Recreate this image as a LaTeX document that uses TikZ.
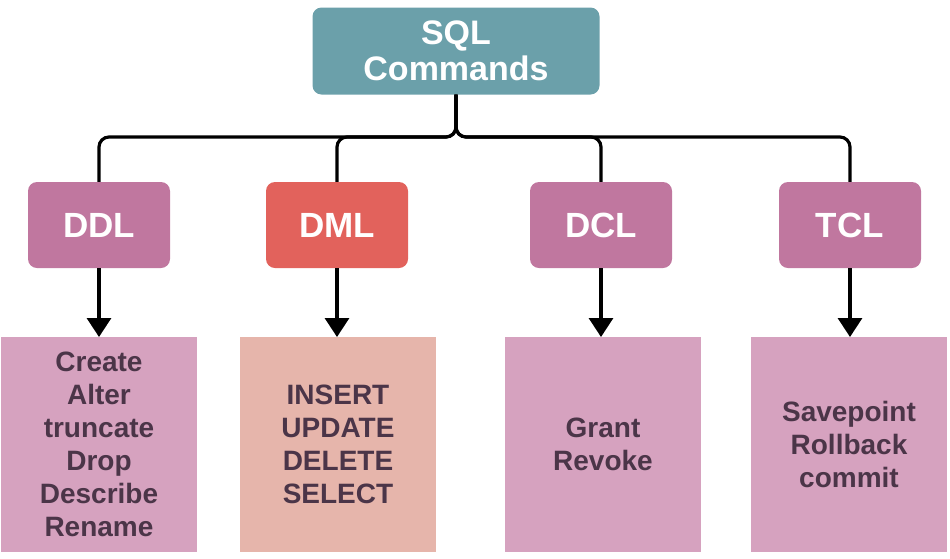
\documentclass[tikz,border=0pt]{standalone}
\usepackage{fontspec}
\setmainfont{Liberation Sans}
\usepackage{xcolor}
\usepackage{tikz}
\usetikzlibrary{positioning}
\usetikzlibrary{arrows.meta}

\definecolor{tealbox}{HTML}{6BA0AA}
\definecolor{mauvebox}{HTML}{C0779F}
\definecolor{redbox}{HTML}{E2625C}
\definecolor{pinkbox}{HTML}{D6A2BF}
\definecolor{salmonbox}{HTML}{E6B5AB}
\definecolor{plumtext}{HTML}{4B3548}

\begin{document}
\begin{tikzpicture}[x=1pt, y=1pt,
rootnode/.style={rectangle, rounded corners=9pt, fill=tealbox, text=white, font=\fontsize{34}{36}\selectfont\bfseries, align=center, minimum width=287pt, minimum height=87pt},
groupnode/.style={rectangle, rounded corners=9pt, fill=mauvebox, text=white, font=\fontsize{35}{38}\selectfont\bfseries, minimum width=142pt, minimum height=86pt},
cmdnode/.style={rectangle, fill=pinkbox, text=plumtext, font=\fontsize{28}{33}\selectfont\bfseries, align=center, minimum width=196pt, minimum height=215pt},
link/.style={line width=3.2pt, rounded corners=10pt},
feed/.style={line width=3.2pt, -{Triangle[width=24pt,length=19pt]}},
]
\useasboundingbox (0,0) rectangle (950,-558);
%Nodes
\node[rootnode] (sql) at (456,-51) {SQL\\Commands};
\node[groupnode] (ddl) at (99,-225) {DDL};
\node[groupnode, fill=redbox] (dml) at (337,-225) {DML};
\node[groupnode] (dcl) at (601,-225) {DCL};
\node[groupnode] (tcl) at (850,-225) {TCL};
\node[cmdnode, anchor=north] (ddlcmd) at (99,-337) {Create\\Alter\\truncate\\Drop\\Describe\\Rename};
\node[cmdnode, anchor=north, fill=salmonbox] (dmlcmd) at (338,-337) {INSERT\\UPDATE\\DELETE\\SELECT};
\node[cmdnode, anchor=north] (dclcmd) at (603,-337) {Grant\\Revoke};
\node[cmdnode, anchor=north] (tclcmd) at (849,-337) {Savepoint\\Rollback\\commit};
\coordinate (fork) at (456,-137);
%Lines
\draw[link] (sql.south) -- (fork) -| (ddl.north);
\draw[link] (sql.south) -- (fork) -| (dml.north);
\draw[link] (sql.south) -- (fork) -| (dcl.north);
\draw[link] (sql.south) -- (fork) -| (tcl.north);
\draw[feed] (ddl.south) -- (ddlcmd.north);
\draw[feed] (dml.south) -- (dmlcmd.north -| dml.south);
\draw[feed] (dcl.south) -- (dclcmd.north -| dcl.south);
\draw[feed] (tcl.south) -- (tclcmd.north -| tcl.south);
\end{tikzpicture}
\end{document}
